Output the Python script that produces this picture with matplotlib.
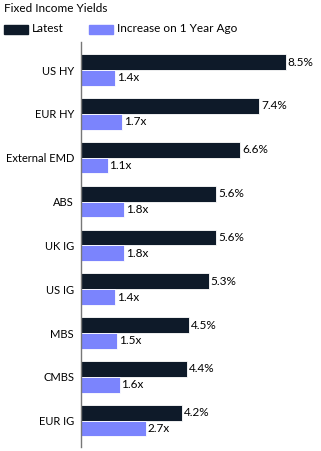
import matplotlib
matplotlib.use("Agg")
import matplotlib.pyplot as plt
import numpy as np

# data
categories = ["US HY", "EUR HY", "External EMD", "ABS", "UK IG", "US IG", "MBS", "CMBS", "EUR IG"]
latest = [8.5, 7.4, 6.6, 5.6, 5.6, 5.3, 4.5, 4.4, 4.2]
increase = [1.4, 1.7, 1.1, 1.8, 1.8, 1.4, 1.5, 1.6, 2.7]

dark = "#0e1a29"
light = "#7b84fd"

plt.rcParams["font.family"] = ["Lato", "DejaVu Sans"]
plt.rcParams["font.size"] = 8.5

fig = plt.figure(figsize=(3.21, 4.51), dpi=100)
ax = fig.add_axes([81 / 321, 4 / 451, 240 / 321, 405 / 451])

y = np.arange(len(categories))
h = 0.36
ax.barh(y - h / 2, latest, height=h, color=dark, edgecolor="white", linewidth=0.6)
ax.barh(y + h / 2, increase, height=h, color=light, edgecolor="white", linewidth=0.6)

for yi, v in zip(y, latest):
    ax.text(v + 0.08, yi - h / 2, f"{v:.1f}%", va="center", ha="left", fontsize=8.5)
for yi, v in zip(y, increase):
    ax.text(v + 0.08, yi + h / 2, f"{v:.1f}x", va="center", ha="left", fontsize=8.5)

ax.set_yticks(y)
ax.set_yticklabels(categories, fontsize=8)
ax.set_ylim(len(categories) - 1 + 0.6, -0.64)
ax.set_xlim(0, 9.96)
ax.set_xticks([])
ax.tick_params(axis="y", length=0, pad=5)
for s in ["top", "right", "bottom"]:
    ax.spines[s].set_visible(False)
ax.spines["left"].set_color("#777777")
ax.spines["left"].set_linewidth(1)

fig.text(4 / 321, 1 - 9 / 451, "Fixed Income Yields", fontsize=8.5, va="center", ha="left")
fig.patches.append(plt.Rectangle((4 / 321, 1 - 34 / 451), 24 / 321, 9 / 451,
                                 transform=fig.transFigure, color=dark))
fig.text(32 / 321, 1 - 29 / 451, "Latest", fontsize=8.5, va="center", ha="left")
fig.patches.append(plt.Rectangle((89 / 321, 1 - 34 / 451), 24 / 321, 9 / 451,
                                 transform=fig.transFigure, color=light))
fig.text(117 / 321, 1 - 29 / 451, "Increase on 1 Year Ago", fontsize=8.5, va="center", ha="left")

fig.savefig("out.png", dpi=100)
